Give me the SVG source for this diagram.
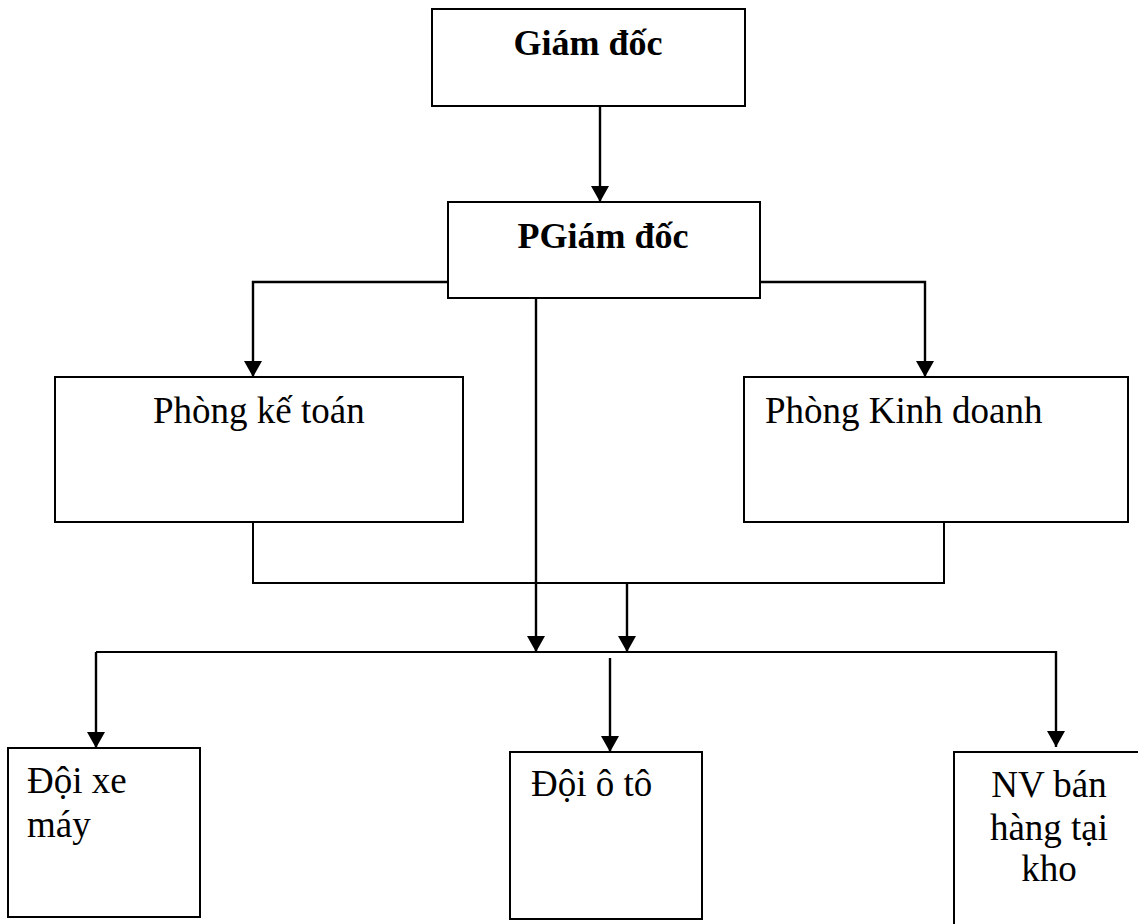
<svg xmlns="http://www.w3.org/2000/svg" width="1138" height="924" viewBox="0 0 1138 924">
  <style>
    .box { fill: #ffffff; stroke: #000000; stroke-width: 2; }
    .wire { fill: none; stroke: #000000; stroke-width: 2; }
    .arrow { fill: none; stroke: #000000; stroke-width: 2.4; marker-end: url(#head); }
    .t { font-family: "Liberation Serif", "Times New Roman", serif; font-size: 37px; fill: #000000; }
    .b { font-weight: bold; font-size: 36px; }
    .mid { text-anchor: middle; }
  </style>
  <defs>
    <marker id="head" markerUnits="userSpaceOnUse" markerWidth="16" markerHeight="18" refX="16" refY="9" orient="auto">
      <path d="M0,0 L16,9 L0,18 Z" fill="#000000"/>
    </marker>
  </defs>
  <rect width="1138" height="924" fill="#ffffff"/>

  <!-- connectors -->
  <g id="connectors">
    <line class="arrow" x1="600" y1="106" x2="600" y2="202"/>
    <polyline class="arrow" points="448,282 253,282 253,377"/>
    <polyline class="arrow" points="760,282 925,282 925,377"/>
    <line class="arrow" x1="536" y1="298" x2="536" y2="652"/>
    <polyline class="wire" points="253,522 253,583 944,583 944,522"/>
    <line class="arrow" x1="627" y1="583" x2="627" y2="652"/>
    <line class="wire" x1="96" y1="652" x2="1056" y2="652"/>
    <line class="arrow" x1="96" y1="652" x2="96" y2="748"/>
    <line class="arrow" x1="610" y1="658" x2="610" y2="752"/>
    <line class="arrow" x1="1056" y1="651" x2="1056" y2="747"/>
  </g>

  <!-- nodes -->
  <g id="giam-doc">
    <rect class="box" x="432" y="9" width="313" height="97"/>
    <text class="t b mid" x="588" y="55">Giám đốc</text>
  </g>
  <g id="pho-giam-doc">
    <rect class="box" x="448" y="202" width="312" height="96"/>
    <text class="t b mid" x="603" y="248">PGiám đốc</text>
  </g>
  <g id="phong-ke-toan">
    <rect class="box" x="55" y="377" width="408" height="145"/>
    <text class="t" x="153" y="423">Phòng kế toán</text>
  </g>
  <g id="phong-kinh-doanh">
    <rect class="box" x="744" y="377" width="384" height="145"/>
    <text class="t" x="765" y="423">Phòng Kinh doanh</text>
  </g>
  <g id="doi-xe-may">
    <rect class="box" x="8" y="748" width="192" height="169"/>
    <text class="t" x="27" y="793">Đội xe</text>
    <text class="t" x="27" y="837">máy</text>
  </g>
  <g id="doi-o-to">
    <rect class="box" x="510" y="752" width="192" height="167"/>
    <text class="t" x="531" y="796">Đội ô tô</text>
  </g>
  <g id="nv-ban-hang">
    <rect class="box" x="954" y="752" width="200" height="200"/>
    <text class="t mid" x="1049" y="797">NV bán</text>
    <text class="t mid" x="1049" y="840">hàng tại</text>
    <text class="t mid" x="1049" y="881">kho</text>
  </g>
</svg>
